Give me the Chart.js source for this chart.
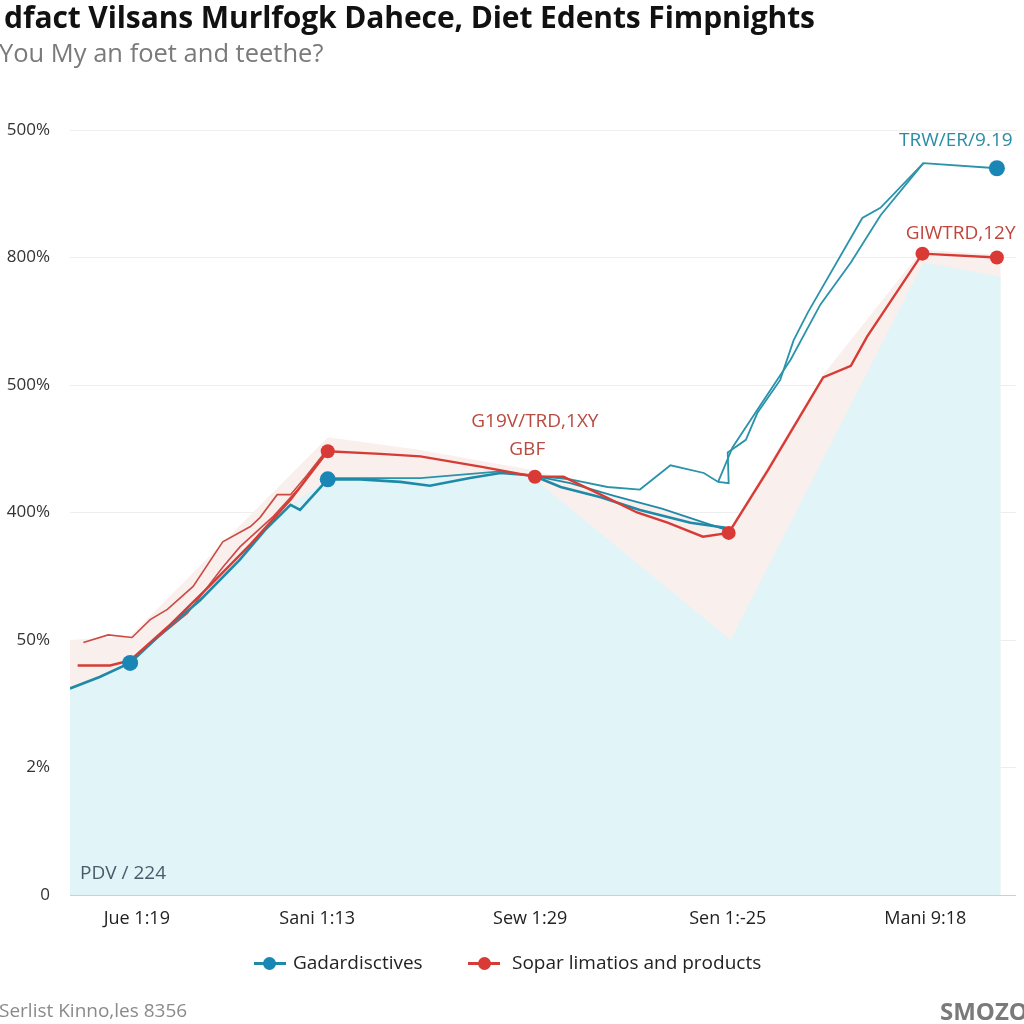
<!DOCTYPE html>
<html><head><meta charset="utf-8">
<script src="https://cdn.jsdelivr.net/npm/chart.js@4.4.0/dist/chart.umd.min.js"></script>
<style>
html,body{margin:0;padding:0;background:#fff;width:1024px;height:1024px;overflow:hidden;position:relative;font-family:"Open Sans",sans-serif;}
#c{position:absolute;left:0;top:0;}
.t{position:absolute;white-space:nowrap;line-height:1;}
.sym{position:absolute;height:3px;width:32px;}
.dot{position:absolute;width:13px;height:13px;border-radius:50%;}
</style></head><body>
<canvas id="c" width="1024" height="1024"></canvas>
<div class="t" id="title" style="left:4px;top:2px;font-size:30px;font-weight:700;color:#111;letter-spacing:-0.1px;">dfact Vilsans Murlfogk Dahece, Diet Edents Fimpnights</div>
<div class="t" id="sub" style="left:-1px;top:40px;font-size:25.5px;color:#7a7a7a;">You My an foet and teethe?</div>
<div class="sym" style="left:254px;top:962px;background:#1f8aa8;"></div>
<div class="dot" style="left:263px;top:957px;background:#1a86b5;"></div>
<div class="t" style="left:293px;top:953px;font-size:19px;color:#222;">Gadardisctives</div>
<div class="sym" style="left:468px;top:962px;background:#d63c35;"></div>
<div class="dot" style="left:478px;top:957px;background:#d93a35;"></div>
<div class="t" style="left:512px;top:953px;font-size:19px;color:#222;">Sopar limatios and products</div>
<div class="t" style="left:-1px;top:1001px;font-size:19px;color:#8a8a8a;">Serlist Kinno,les 8356</div>
<div class="t" style="left:940px;top:999px;font-size:24px;font-weight:700;color:#7a7a7a;">SMOZO</div>
<script>
// ---- data (x in period units, y in axis units 0..6) ----
const xTickPos = [7.0, 25.9, 48.2, 68.9, 89.6];
const xTickLabels = ["Jue 1:19", "Sani 1:13", "Sew 1:29", "Sen 1:-25", "Mani 9:18"];
const yTickLabels = ["0", "2%", "50%", "400%", "500%", "800%", "500%"];

const blueMain = [[0,1.62],[3.1,1.71],[6.3,1.82],[10.0,2.08],[13.6,2.31],[17.8,2.63],[20.4,2.86],[23.1,3.06],[24.1,3.02],[27.0,3.26],[30.4,3.26],[34.6,3.24],[37.7,3.21],[41.9,3.27],[45.1,3.31],[48.5,3.29],[51.4,3.20],[55.6,3.12],[59.7,3.02],[65.0,2.92],[68.7,2.88]];
const blueLower = [[48.5,3.29],[52.4,3.23],[57.0,3.13],[62.0,3.03],[68.9,2.86]];
const blueUpper = [[27.0,3.27],[36.7,3.27],[44.8,3.32],[48.5,3.29],[52.4,3.26],[56.3,3.20],[59.7,3.18],[62.9,3.37],[66.4,3.31],[67.9,3.24],[69.0,3.23],[68.9,3.47],[70.8,3.57],[72.0,3.78],[74.4,4.04],[75.8,4.35],[77.3,4.57],[83.0,5.31],[84.9,5.39],[89.4,5.74],[97.1,5.70]];
const blueRise = [[67.9,3.24],[69.4,3.51],[72.3,3.84],[75.5,4.20],[78.6,4.63],[81.8,4.96],[84.9,5.33],[89.4,5.74]];
const blueMarks = [[6.3,1.82],[27.0,3.26],[97.1,5.70]];
const blueArea = [[0,1.62],[3.1,1.71],[6.3,1.82],[13.6,2.31],[23.1,3.06],[27.0,3.26],[48.2,3.29],[69.2,2.0],[89.4,4.96],[97.5,4.85]];

const redMain = [[0.8,1.80],[4.2,1.80],[6.3,1.84],[10.5,2.12],[14.7,2.43],[18.9,2.75],[23.1,3.10],[27.0,3.48],[32.5,3.46],[36.7,3.44],[43.0,3.36],[48.7,3.28],[51.7,3.28],[55.6,3.14],[59.4,3.00],[62.6,2.92],[66.3,2.81],[69.0,2.84],[73.1,3.33],[78.9,4.06],[81.8,4.15],[83.5,4.38],[89.3,5.03],[97.1,5.00]];
const redUpper = [[1.4,1.98],[4.0,2.04],[6.5,2.02],[8.4,2.16],[10.2,2.24],[12.9,2.42],[16.0,2.77],[18.9,2.89],[19.9,2.96],[21.7,3.14],[23.1,3.14],[24.8,3.29],[26.9,3.49]];
const redMid = [[6.3,1.84],[12.3,2.21],[16.0,2.57],[17.8,2.73],[21.3,2.97],[24.1,3.20],[26.9,3.49]];
const redMarks = [[27.0,3.48],[48.7,3.28],[69.0,2.84],[89.3,5.03],[97.1,5.00]];
const redArea = [[0,2.0],[6.3,2.03],[27.0,3.59],[36.7,3.49],[48.7,3.33],[69.0,2.86],[78.9,4.08],[89.3,5.06],[97.5,5.02]];

const notes = [
  {text:"TRW/ER/9.19", x:92.8, y:5.92, color:"#2a8da5", align:"center"},
  {text:"GIWTRD,12Y", x:93.3, y:5.19, color:"#c0453d", align:"center"},
  {text:"G19V/TRD,1XY", x:48.7, y:3.71, color:"#b84a40", align:"center"},
  {text:"GBF", x:47.9, y:3.49, color:"#b84a40", align:"center"},
  {text:"PDV / 224", x:1.05, y:0.17, color:"#4a5a6a", align:"left"}
];

const toPts = a => a.map(p => ({x:p[0], y:p[1]}));
const BLUE = "#1f8aa8", RED = "#d63c35";

function lineDs(arr, color, w, order){
  return {data:toPts(arr), borderColor:color, borderWidth:w, pointRadius:0, tension:0, fill:false, order:order};
}

const notesPlugin = {
  id:'notes',
  afterDatasetsDraw(chart){
    const c = chart.ctx, xs = chart.scales.x, ys = chart.scales.y;
    c.save();
    c.font = '19px "Open Sans"';
    c.textBaseline = 'middle';
    notes.forEach(n => {
      c.fillStyle = n.color;
      c.textAlign = n.align;
      c.fillText(n.text, xs.getPixelForValue(n.x), ys.getPixelForValue(n.y));
    });
    c.restore();
  }
};

new Chart(document.getElementById('c'), {
  type:'line',
  data:{datasets:[
    {data:toPts(redArea), borderColor:'rgba(0,0,0,0)', backgroundColor:'#f9efed', fill:'origin', pointRadius:0, tension:0, order:20},
    {data:toPts(blueArea), borderColor:'rgba(0,0,0,0)', backgroundColor:'#e1f4f8', fill:'origin', pointRadius:0, tension:0, order:19},
    lineDs(redUpper, '#cc4a44', 1.6, 9),
    lineDs(redMid, '#cc4a44', 1.6, 9),
    lineDs(blueLower, BLUE, 1.8, 8),
    lineDs(blueUpper, '#2a93aa', 1.8, 8),
    lineDs(blueRise, '#2a93aa', 1.8, 8),
    lineDs(blueMain, BLUE, 2.6, 7),
    lineDs(redMain, RED, 2.4, 6),
    {data:toPts(blueMarks), showLine:false, pointRadius:8, pointBackgroundColor:'#1a86b5', pointBorderWidth:0, order:2},
    {data:toPts(redMarks), showLine:false, pointRadius:7, pointBackgroundColor:'#d93a35', pointBorderWidth:0, order:1}
  ]},
  options:{
    responsive:false, animation:false,
    layout:{padding:{top:130,left:0,right:0,bottom:0}},
    plugins:{legend:{display:false}, tooltip:{enabled:false}},
    scales:{
      x:{type:'linear', min:0, max:99.1,
        grid:{display:false, drawTicks:false}, border:{display:false},
        afterBuildTicks:s=>{ s.ticks = xTickPos.map(v=>({value:v})); },
        ticks:{callback:(v,i)=>xTickLabels[i], autoSkip:false, maxRotation:0, padding:13, color:'#222', font:{size:18, family:'Open Sans'}},
        afterFit:s=>{ s.height = 129; }
      },
      y:{type:'linear', min:0, max:6,
        afterBuildTicks:s=>{ s.ticks = yTickLabels.map((_,i)=>({value:i})); },
        ticks:{callback:(v,i)=>yTickLabels[i], padding:20, color:'#333', font:{size:17, family:'Open Sans'}},
        grid:{color:c=>c.index===0?'#cfcfcf':'#eeeeee', drawTicks:false, lineWidth:1},
        border:{display:false},
        afterFit:s=>{ s.width = 70; }
      }
    }
  },
  plugins:[notesPlugin]
});
</script>
</body></html>
